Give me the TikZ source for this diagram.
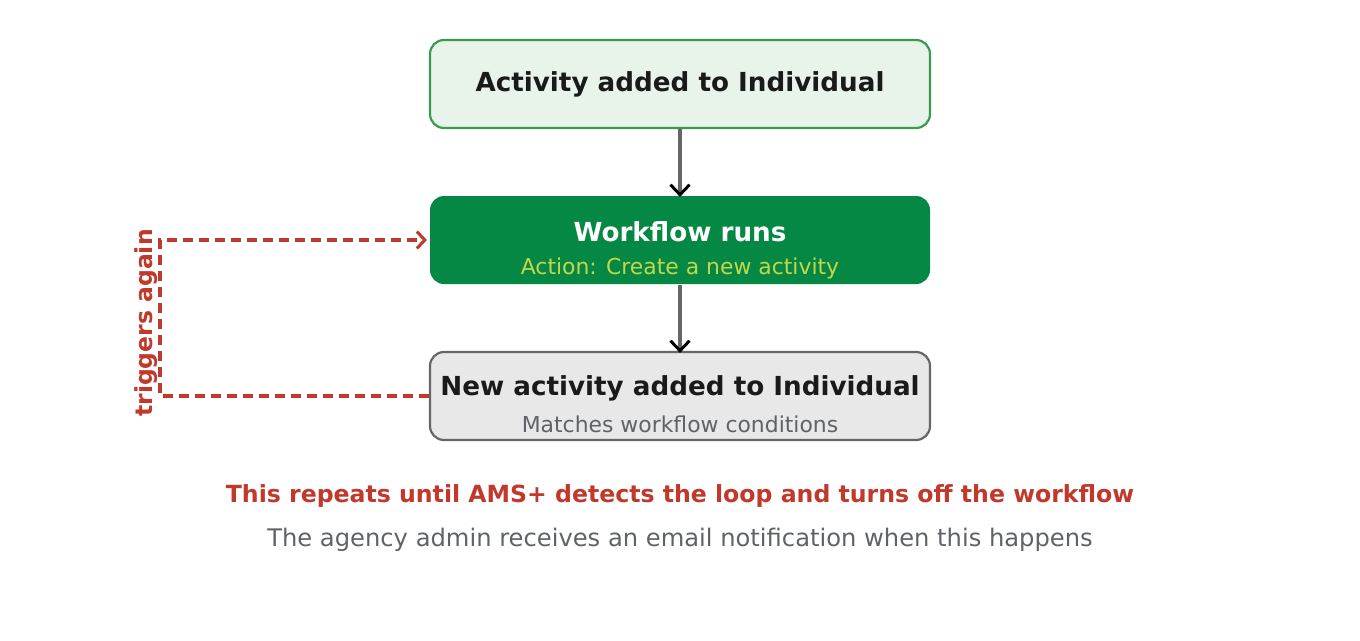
\documentclass[tikz,border=0pt]{standalone}
\usepackage{fontspec}
\setmainfont{DejaVu Sans}
\usetikzlibrary{arrows.meta}
\definecolor{gborder}{HTML}{3A9A4E}
\definecolor{gfill}{HTML}{E8F4EA}
\definecolor{wfgreen}{HTML}{058844}
\definecolor{actcol}{HTML}{C4D64A}
\definecolor{grayfill}{HTML}{E8E8E8}
\definecolor{grayline}{HTML}{666666}
\definecolor{loopred}{HTML}{C0392B}
\definecolor{darktext}{HTML}{1A1A1A}
\definecolor{subgray}{HTML}{5F6368}
\tikzset{
  box/.style={rounded corners=14pt, minimum width=500pt, minimum height=88pt, inner sep=0pt, line width=2.2pt},
  flow/.style={draw=grayline, line width=3.6pt, -{Straight Barb[length=10pt,width=19pt,line width=3pt,color=black]}},
  loop/.style={draw=loopred, line width=3.2pt, dash pattern=on 10pt off 6pt, -{Straight Barb[length=8pt,width=17pt,line width=3pt]}},
}
\begin{document}
\begin{tikzpicture}[x=1pt,y=-1pt]
\useasboundingbox (0,0) rectangle (1360,640);
\node[box, draw=gborder, fill=gfill] (a) at (680,84) {};
\node[font=\bfseries\fontsize{26.2}{30}\selectfont, text=darktext] (at) at (680,84) {Activity added to Individual};
\node[box, fill=wfgreen] (b) at (680,240) {};
\node[font=\bfseries\fontsize{26.2}{30}\selectfont, text=white] (bt) at (680,232) {Workflow runs};
\node[font=\fontsize{21.9}{25}\selectfont, text=actcol] (bs) at (680,268) {Action: Create a new activity};
\node[box, draw=grayline, fill=grayfill] (c) at (680,396) {};
\node[font=\bfseries\fontsize{26.2}{30}\selectfont, text=darktext] (ct) at (680,388) {New activity added to Individual};
\node[font=\fontsize{21.9}{25}\selectfont, text=subgray] (cs) at (680,424) {Matches workflow conditions};
\draw[flow] (a.south) -- ([yshift=-2pt]b.north);
\draw[flow] (b.south) -- ([yshift=-2pt]c.north);
\coordinate (lb) at (160,396);
\coordinate (lt) at (160,240);
\draw[loop] (c.west) -- (lb) -- (lt) -- ([xshift=-2pt]b.west);
\node[rotate=90, font=\bfseries\fontsize{23.5}{27}\selectfont, text=loopred] (lbl) at (146,323) {triggers again};
\node[font=\bfseries\fontsize{23.6}{27}\selectfont, text=loopred] (r1) at (680,496) {This repeats until AMS+ detects the loop and turns off the workflow};
\node[font=\fontsize{24.2}{28}\selectfont, text=subgray] (r2) at (680,540) {The agency admin receives an email notification when this happens};
\end{tikzpicture}
\end{document}
